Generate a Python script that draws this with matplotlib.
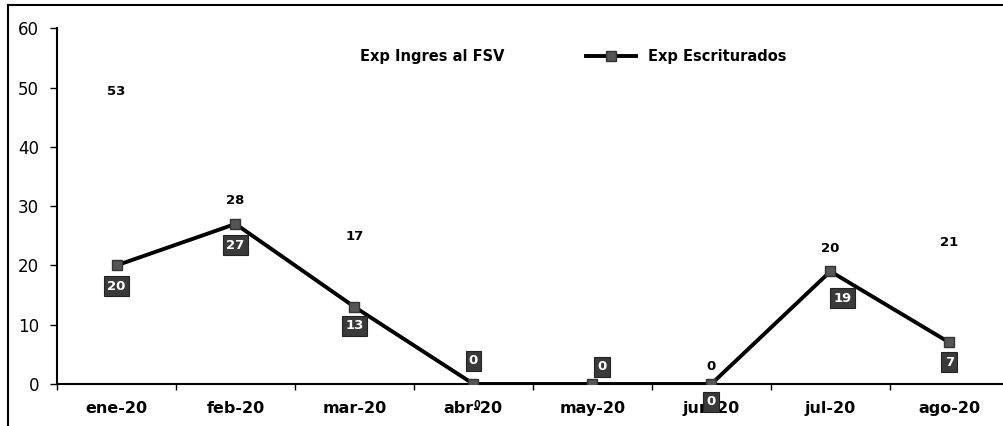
import matplotlib
matplotlib.use("Agg")
import matplotlib.pyplot as plt
from matplotlib.lines import Line2D
import numpy as np

months = ["ene-20", "feb-20", "mar-20", "abr-20", "may-20", "jun-20", "jul-20", "ago-20"]
ingres = [53, 28, 17, 0, 0, 0, 20, 21]
escriturados = [20, 27, 13, 0, 0, 0, 19, 7]

# where the labels sit in the scanned chart (data units)
ingres_lbl_y = [49.4, 31.0, 24.8, -3.6, None, 2.9, 22.8, 23.8]
escrit_lbl_y = [16.5, 23.4, 9.8, 3.9, 2.9, -3.0, 14.5, 3.7]
escrit_lbl_dx = [0, 0, 0, 0, 0.08, 0, 0.1, 0]

fig = plt.figure(figsize=(10.04, 4.26), dpi=100)
ax = fig.add_axes([0.0568, 0.0986, 0.948, 0.835])

x = np.arange(len(months))
ax.plot(x, escriturados, color="black", lw=2.8, marker="s", markersize=7,
        markerfacecolor="#555555", markeredgecolor="#333333", zorder=3,
        label="Exp Escriturados")
# first series has no visible mark, only its labels
ax.plot([], [], color="none", label="Exp Ingres al FSV")

for i, v in enumerate(ingres):
    if ingres_lbl_y[i] is None:
        continue
    fs = 7 if i == 3 else 9.5
    ax.text(x[i] + (0.03 if i == 3 else 0), ingres_lbl_y[i], str(v), ha="center", va="center",
            fontsize=fs, fontweight="bold", color="black", zorder=5)

for i, v in enumerate(escriturados):
    ax.text(x[i] + escrit_lbl_dx[i], escrit_lbl_y[i], str(v), ha="center", va="center",
            fontsize=9.5, fontweight="bold", color="white", zorder=6,
            bbox=dict(boxstyle="square,pad=0.25", fc="#3a3a3a", ec="#222222", lw=0.8))

ax.set_xlim(-0.5, 7.5)
ax.set_ylim(0, 60)
ax.set_yticks(range(0, 61, 10))
ax.set_xticks(x)
ax.set_xticklabels(months, fontweight="bold", fontsize=11.5)
ax.set_xticks(np.arange(-0.5, 8, 1), minor=True)
ax.tick_params(axis="x", which="major", length=0, pad=12)
ax.tick_params(axis="x", which="minor", length=4, width=1, direction="out")
ax.tick_params(axis="y", length=5, width=1, direction="out", labelsize=12, pad=8)
for s in ["top", "right"]:
    ax.spines[s].set_visible(False)
ax.spines["left"].set_linewidth(1.5)
ax.spines["bottom"].set_linewidth(1.5)

handles, labels = ax.get_legend_handles_labels()
leg = ax.legend(handles[::-1], labels[::-1], loc="center", bbox_to_anchor=(0.51, 0.92),
                ncol=2, frameon=False, columnspacing=5.6, handlelength=3.4,
                prop={"weight": "bold", "size": 10.5})

# scan border
fig.add_artist(Line2D([0.008, 0.008], [0, 0.988], color="black", lw=1.5))
fig.add_artist(Line2D([0.008, 1.0], [0.988, 0.988], color="black", lw=1.5))

fig.savefig("out.png", dpi=100)
